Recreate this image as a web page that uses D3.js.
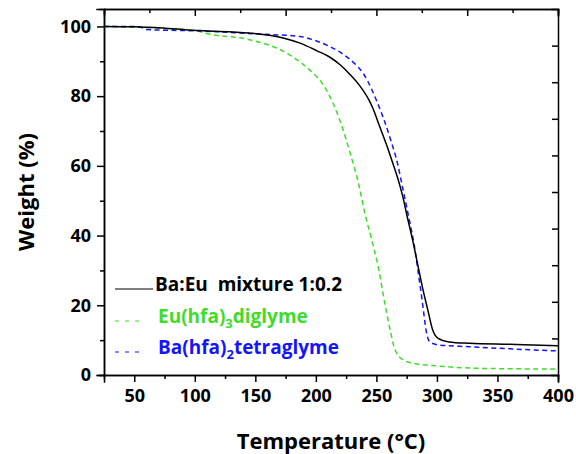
<!DOCTYPE html>
<html>
<head>
<meta charset="utf-8">
<script src="https://cdn.jsdelivr.net/npm/d3@7"></script>
<style>
  body { margin: 0; background: #fff; }
  svg text { font-family: "Open Sans", sans-serif; font-weight: bold; }
</style>
</head>
<body>
<div id="visual-container"></div>
<script>
// Ba:Eu mixture 1:0.2 (solid black)
const mixTemp   = [25, 50, 75, 104, 145, 173, 187, 201, 211, 220, 228, 236, 244, 247, 252.5, 258, 263.5, 268, 271.5, 276, 280, 284, 288, 292.5, 296.5, 301, 310, 327, 360, 400]
const mixWeight = [100, 99.9, 99.5, 98.8, 98.1, 96.7, 95.2, 93.0, 91.3, 89.0, 86.3, 83.1, 78.8, 76.6, 71.5, 66.4, 60.8, 56.0, 51.6, 44.6, 38.6, 31.9, 25.2, 18.6, 12.9, 10.5, 9.5, 9.1, 8.8, 8.4]

// Eu(hfa)3diglyme (green dashed)
const euTemp   = [25, 50, 75, 100, 112, 145, 173, 187, 198, 206, 214, 221, 228, 236, 240, 246, 251, 257, 262, 265, 272, 280, 297, 338, 400]
const euWeight = [100, 99.8, 99.4, 98.8, 97.8, 96.2, 92.9, 89.8, 86.5, 83.3, 78.1, 71.9, 64.0, 53.8, 47.1, 39.0, 31.9, 20.5, 11.9, 7.6, 4.3, 3.4, 2.7, 1.9, 1.7]

// Ba(hfa)2tetraglyme (blue dashed)
const baTemp   = [25, 50, 55, 60, 104, 154, 187, 200, 211, 220, 228, 235, 239, 243, 250, 256.5, 262, 267.5, 271.5, 275, 277.5, 281.5, 285.5, 288.5, 291, 294, 302, 327, 360, 400]
const baWeight = [100, 100, 99.8, 99.1, 98.7, 97.8, 97.1, 95.9, 94.3, 92.6, 90.6, 88.3, 86.6, 84.2, 78.8, 73.0, 67.2, 60.6, 54.0, 48.2, 44.0, 36.7, 27.1, 19.5, 12.9, 9.5, 8.6, 8.1, 7.5, 6.9]

const xTicks = [50, 100, 150, 200, 250, 300, 350, 400]
const xMinor = [75, 125, 175, 225, 275, 325, 375]
const yTicks = [0, 20, 40, 60, 80, 100]
const yMinor = [10, 30, 50, 70, 90]
const topMajor = [100, 175, 250, 325, 400]
const topMinor = [62.5, 137.5, 212.5, 287.5, 362.5]
const rightTicks = [10.5, 21, 31.5, 42, 52.5, 63, 73.5, 84, 94.5]

const width = 576
const height = 454
const margin = { top: 9, right: 18, bottom: 79, left: 104 }

const green = '#3fdc2a'
const blue = '#1414ff'

const svg = d3.select('#visual-container')
              .append('svg')
              .attr('width', width)
              .attr('height', height)

const xScale = d3.scaleLinear()
                 .domain([25, 400])
                 .range([margin.left, width - margin.right])

const yScale = d3.scaleLinear()
                 .domain([0, 105])
                 .range([height - margin.bottom, margin.top])

const plotBottom = height - margin.bottom
const plotRight = width - margin.right

// axes
const styleAxis = (g) => {
    g.select('.domain').attr('stroke', '#000').attr('stroke-width', 1.5)
    g.selectAll('.tick line').attr('stroke', '#000').attr('stroke-width', 1.5)
    g.selectAll('.tick text')
     .attr('fill', '#000')
     .style('font-size', '18px')
}

svg.append('g')
   .attr('transform', `translate(0, ${plotBottom})`)
   .call(d3.axisBottom(xScale).tickValues(xTicks).tickSize(7).tickPadding(7).tickFormat(d3.format('d')))
   .call(styleAxis)

svg.append('g')
   .attr('transform', `translate(0, ${plotBottom})`)
   .call(d3.axisBottom(xScale).tickValues(xMinor).tickSize(4).tickFormat(''))
   .call(styleAxis)

svg.append('g')
   .attr('transform', `translate(${margin.left}, 0)`)
   .call(d3.axisLeft(yScale).tickValues(yTicks).tickSize(7).tickPadding(6).tickFormat(d3.format('d')))
   .call(styleAxis)

svg.append('g')
   .attr('transform', `translate(${margin.left}, 0)`)
   .call(d3.axisLeft(yScale).tickValues(yMinor).tickSize(4).tickFormat(''))
   .call(styleAxis)

// top and right frame, ticks pointing inward
svg.append('g')
   .attr('transform', `translate(0, ${margin.top})`)
   .call(d3.axisBottom(xScale).tickValues(topMajor).tickSize(7).tickFormat(''))
   .call(styleAxis)

svg.append('g')
   .attr('transform', `translate(0, ${margin.top})`)
   .call(d3.axisBottom(xScale).tickValues(topMinor).tickSize(4).tickFormat(''))
   .call(styleAxis)

svg.append('g')
   .attr('transform', `translate(${plotRight}, 0)`)
   .call(d3.axisLeft(yScale).tickValues(rightTicks).tickSize(6).tickFormat(''))
   .call(styleAxis)

svg.selectAll('.domain').attr('stroke-linecap', 'square')

// curves
const line = d3.line()
               .x(d => xScale(d[0]))
               .y(d => yScale(d[1]))
               .curve(d3.curveMonotoneX)

const series = [
    { t: euTemp, w: euWeight, color: green, dash: '5,3.5' },
    { t: baTemp, w: baWeight, color: blue, dash: '5,3.5' },
    { t: mixTemp, w: mixWeight, color: '#000', dash: null }
]

series.forEach(s => {
    svg.append('path')
       .datum(s.t.map((t, i) => [t, s.w[i]]))
       .attr('fill', 'none')
       .attr('stroke', s.color)
       .attr('stroke-width', 1.5)
       .attr('stroke-dasharray', s.dash)
       .attr('d', line)
})

// legend
const legend = svg.append('g')

const legendRows = [
    { y: 289, color: '#000', dash: null, parts: [['Ba:Eu  mixture 1:0.2', false]] },
    { y: 321, color: green, dash: '4,6', parts: [['Eu(hfa)', false], ['3', true], ['diglyme', false]] },
    { y: 352, color: blue, dash: '4,6', parts: [['Ba(hfa)', false], ['2', true], ['tetraglyme', false]] }
]

legendRows.forEach((row, i) => {
    legend.append('line')
          .attr('x1', 115)
          .attr('x2', i === 0 ? 153 : 145)
          .attr('y1', row.y)
          .attr('y2', row.y)
          .attr('stroke', row.color)
          .attr('stroke-width', 1.2)
          .attr('stroke-dasharray', row.dash)

    const text = legend.append('text')
                       .attr('x', i === 0 ? 155 : 158)
                       .attr('y', row.y + 7)
                       .attr('fill', row.color)
                       .style('font-size', '19px')
                       .style('white-space', 'pre')

    row.parts.forEach(p => {
        text.append('tspan')
            .attr('dy', p[1] ? 5 : (text.selectAll('tspan').size() > 0 ? -5 : 0))
            .style('font-size', p[1] ? '13px' : '19px')
            .text(p[0])
    })
})

// axis titles
svg.append('text')
   .attr('x', 331)
   .attr('y', 449)
   .attr('text-anchor', 'middle')
   .style('font-size', '22px')
   .text('Temperature (°C)')

svg.append('text')
   .attr('transform', `translate(34, 192) rotate(-90)`)
   .attr('text-anchor', 'middle')
   .style('font-size', '22px')
   .text('Weight (%)')
</script>
</body>
</html>
